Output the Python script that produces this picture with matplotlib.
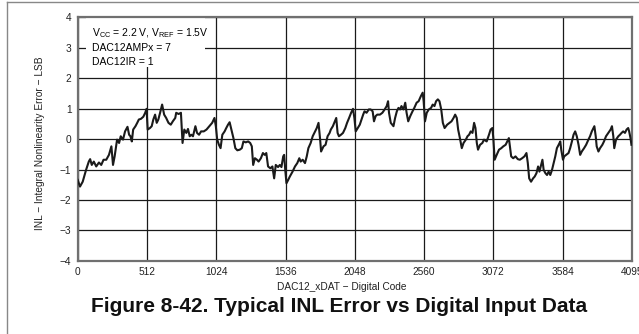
import matplotlib
matplotlib.use('Agg')
import matplotlib.pyplot as plt
from matplotlib.patches import Rectangle
from matplotlib.lines import Line2D

plt.rcParams['font.family'] = ['Liberation Sans', 'DejaVu Sans']
plt.rcParams['mathtext.fontset'] = 'custom'
plt.rcParams['mathtext.rm'] = 'Liberation Sans'
plt.rcParams['mathtext.it'] = 'Liberation Sans'

# INL error (code, LSB)
code = [0, 17, 37, 62, 82, 92, 104, 119, 137, 157, 174, 191, 211, 231, 249, 261, 273, 291, 306, 318,
        335, 350, 368, 380, 390, 400, 410, 427, 440, 452, 467, 485, 499, 509, 517, 534, 547, 559, 572, 584,
        596, 609, 624, 639, 654, 671, 688, 703, 721, 728, 746, 763, 775, 788, 803, 815, 828, 840, 852, 870,
        882, 897, 912, 932, 952, 969, 982, 994, 1011, 1021, 1031, 1044, 1056, 1069, 1086, 1098, 1111, 1123, 1136, 1151,
        1165, 1180, 1198, 1213, 1225, 1242, 1260, 1275, 1287, 1297, 1310, 1325, 1337, 1354,
        1369, 1382, 1394, 1407, 1424, 1439, 1452, 1464, 1481, 1494, 1506, 1519, 1526, 1534, 1543, 1556, 1568, 1588,
        1606, 1623, 1638, 1648, 1663, 1680, 1693, 1705, 1722, 1737, 1755, 1767, 1780, 1792, 1799, 1817, 1832, 1847,
        1862, 1871, 1886, 1901, 1911, 1921, 1931, 1946, 1961, 1978, 1991, 2006, 2021, 2035, 2045, 2055, 2070, 2085,
        2098, 2110, 2120, 2135, 2152, 2165, 2180, 2190, 2202, 2214, 2234, 2252, 2269, 2284, 2294, 2301, 2314, 2334,
        2346, 2359, 2371, 2383, 2393, 2408, 2421, 2431, 2443, 2458, 2475, 2488, 2505, 2520, 2537, 2550, 2557, 2567,
        2580, 2595, 2612, 2624, 2637, 2649, 2662, 2674, 2687, 2699, 2712, 2731, 2749,
        2763, 2778, 2790, 2802, 2812, 2825, 2839, 2852, 2869, 2881, 2893, 2905, 2918, 2930, 2940, 2950, 2959, 2974,
        2991, 3003, 3023, 3040, 3052, 3065, 3072, 3082, 3097, 3114, 3131, 3146, 3163, 3175, 3187, 3195, 3204, 3219,
        3236, 3253, 3268, 3285, 3302, 3317, 3327, 3337, 3351, 3366, 3378, 3391, 3403, 3413, 3425, 3435, 3444, 3457,
        3469, 3481, 3493, 3506, 3518, 3530, 3542, 3555, 3567, 3574, 3587, 3596, 3611, 3628, 3640, 3653, 3665, 3677,
        3689, 3702, 3714, 3726, 3743, 3758, 3775, 3787, 3800, 3812, 3819, 3829, 3836, 3849, 3861, 3878, 3890, 3905,
        3922, 3939, 3949, 3959, 3966, 3979, 3996, 4008, 4020, 4032, 4045, 4057, 4069, 4076, 4086, 4093]
inl = [-1.34, -1.56, -1.40, -1.01, -0.74, -0.66, -0.85, -0.74, -0.90, -0.77, -0.85, -0.68, -0.68, -0.52, -0.24, -0.85, -0.57, -0.02, -0.13, 0.09,
       -0.02, 0.25, 0.40, 0.14, 0.09, -0.08, 0.31, 0.42, 0.53, 0.64, 0.66, 0.73, 0.86, 0.99, 0.31, 0.36, 0.42, 0.64, 0.80, 0.53,
       0.64, 0.86, 1.13, 0.80, 0.69, 0.53, 0.47, 0.58, 0.69, 0.86, 0.82, 0.86, -0.13, 0.31, 0.20, 0.33, 0.09, 0.14, 0.09, 0.42,
       0.20, 0.14, 0.25, 0.25, 0.31, 0.40, 0.47, 0.53, 0.69, 0.42, -0.02, -0.19, -0.30, 0.14, 0.25, 0.36, 0.47, 0.55, 0.31, 0.03,
       -0.30, -0.37, -0.35, -0.30, -0.08, -0.11, -0.08, -0.13, -0.24, -0.85, -0.63, -0.68, -0.74, -0.63,
       -0.46, -0.52, -0.46, -0.90, -0.96, -0.90, -1.29, -0.85, -0.92, -0.85, -0.92, -0.57, -0.52, -1.01, -1.45, -1.34, -1.23, -1.07,
       -0.90, -0.79, -0.63, -0.74, -0.68, -0.79, -0.57, -0.30, -0.13, 0.09, 0.25, 0.36, 0.53, -0.02, -0.41, -0.24, -0.19, 0.09,
       0.20, 0.31, 0.42, 0.58, 0.69, 0.20, 0.09, 0.14, 0.20, 0.36, 0.53, 0.69, 0.86, 0.99, 0.69, 0.25, 0.36, 0.47,
       0.64, 0.80, 0.91, 0.86, 0.97, 0.97, 0.91, 0.58, 0.75, 0.80, 0.80, 0.86, 0.97, 1.08, 1.24, 0.86, 0.53, 0.42,
       0.69, 0.91, 1.02, 0.97, 1.08, 0.97, 1.19, 0.86, 0.58, 0.75, 0.91, 1.02, 1.19, 1.24, 1.41, 1.52, 1.24, 0.58,
       0.86, 0.97, 1.02, 1.13, 1.08, 1.24, 1.30, 1.24, 0.97, 0.53, 0.36, 0.47, 0.53,
       0.58, 0.69, 0.80, 0.69, 0.31, 0.03, -0.30, -0.13, -0.02, 0.09, 0.14, 0.25, 0.20, 0.53, 0.36, -0.13, -0.35, -0.19,
       -0.13, -0.02, -0.08, 0.14, 0.31, 0.36, 0.03, -0.68, -0.52, -0.35, -0.30, -0.24, -0.19, -0.08, 0.03, -0.24, -0.57, -0.63,
       -0.57, -0.66, -0.68, -0.63, -0.57, -0.46, -0.79, -1.29, -1.40, -1.29, -1.23, -1.12, -0.90, -1.07, -0.85, -0.68, -1.01, -1.12,
       -1.18, -1.07, -1.18, -1.01, -0.79, -0.57, -0.30, -0.19, -0.08, -0.35, -0.68, -0.57, -0.52, -0.46, -0.30, -0.08, 0.14, 0.25,
       0.09, -0.19, -0.52, -0.41, -0.30, -0.19, -0.02, 0.09, 0.25, 0.36, 0.42, 0.09, -0.24, -0.41, -0.30, -0.19, -0.08, 0.09,
       0.20, 0.31, 0.42, 0.09, -0.30, -0.02, 0.09, 0.14, 0.20, 0.25, 0.20, 0.31, 0.36, 0.25, 0.03, -0.19]

x_ticks = [0, 512, 1024, 1536, 2048, 2560, 3072, 3584, 4095]
y_ticks = [-4, -3, -2, -1, 0, 1, 2, 3, 4]

fig = plt.figure(figsize=(6.39, 3.34), dpi=100)
ax = fig.add_axes([0.1216, 0.2186, 0.867, 0.7304])

ax.plot(code, inl, color='#1a1a1a', lw=1.5, zorder=3)

ax.set_xlim(0, 4095)
ax.set_ylim(-4, 4)
ax.set_xticks(x_ticks)
ax.set_yticks(y_ticks)
ax.set_yticklabels([str(v).replace('-', '\u2212') for v in y_ticks])
ax.grid(True, color='#1a1a1a', lw=0.9)
ax.tick_params(length=0, labelsize=7.3, colors='#222222', pad=4.5)
for s in ax.spines.values():
    s.set_color('#707070')
    s.set_linewidth(1.6)

# white box behind the test conditions
ax.add_patch(Rectangle((0.015, 0.795), 0.215, 0.21, transform=ax.transAxes,
                       facecolor='white', edgecolor='none', zorder=2.5))
ax.text(0.025, 0.935, r'V$_{\mathrm{CC}}$ = 2.2 V, V$_{\mathrm{REF}}$ = 1.5V', transform=ax.transAxes,
        fontsize=7.5, va='center', zorder=4)
ax.text(0.025, 0.875, 'DAC12AMPx = 7', transform=ax.transAxes, fontsize=7.5, va='center', zorder=4)
ax.text(0.025, 0.817, 'DAC12IR = 1', transform=ax.transAxes, fontsize=7.5, va='center', zorder=4)

fig.text(40 / 639, 1 - 143 / 334, 'INL \u2212 Integral Nonlinearity Error \u2212 LSB', rotation=90,
         fontsize=7.3, ha='center', va='center', color='#222222')
fig.text(342 / 639, 1 - 287 / 334, 'DAC12_xDAT \u2212 Digital Code', fontsize=7.3,
         ha='center', va='center', color='#222222')
fig.text(339 / 639, 1 - 306 / 334, 'Figure 8-42. Typical INL Error vs Digital Input Data',
         fontsize=15, fontweight='bold', ha='center', va='center', color='#111111')

# page frame
fig.add_artist(Line2D([7 / 639, 7 / 639], [0, 1 - 2 / 334], transform=fig.transFigure, color='#888888', lw=1))
fig.add_artist(Line2D([7 / 639, 1], [1 - 2 / 334, 1 - 2 / 334], transform=fig.transFigure, color='#888888', lw=1))

fig.savefig('out.png', dpi=100)
